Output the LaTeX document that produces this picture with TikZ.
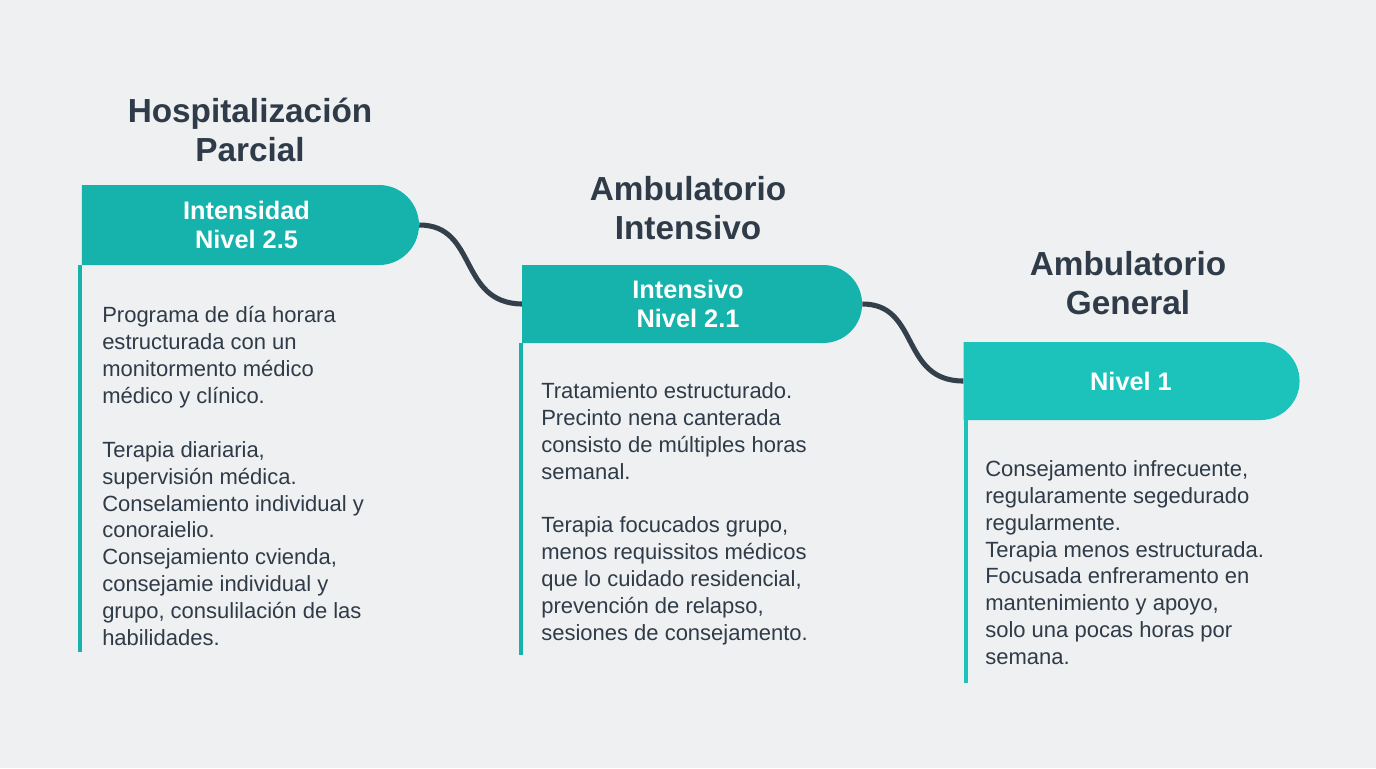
\documentclass[tikz,border=0pt]{standalone}
\usepackage{fontspec}
\setmainfont{Liberation Sans}
\usetikzlibrary{shapes.misc, positioning}
\definecolor{bgc}{HTML}{EEF0F1}
\definecolor{tealA}{HTML}{16B3AC}
\definecolor{tealC}{HTML}{1CC3BA}
\definecolor{ink}{HTML}{2F3B48}
\definecolor{wire}{HTML}{333F4B}

\begin{document}
\begin{tikzpicture}[x=0.75pt, y=-0.75pt,
    banner/.style={rounded rectangle, rounded rectangle left arc=none, fill=tealA,
      text=white, font=\fontsize{19}{22}\selectfont\bfseries, align=center, inner sep=0pt},
    title/.style={text=ink, font=\fontsize{25}{29}\selectfont\bfseries, align=center},
    body/.style={anchor=north west, text=ink, align=left, inner sep=0pt,
      font=\fontsize{16.5}{20.2}\selectfont},
    stem/.style={tealA, line width=3pt},
    wirestyle/.style={wire, line width=3.8pt}]
  % background
  \fill[bgc] (0,0) rectangle (1376,768);

  % Hospitalizacion parcial
  \node[title] (t1) at (250,130) {Hospitalización\\Parcial};
  \node[banner, minimum width=252.75pt, minimum height=60pt] (b1) at (246.5,225) {Intensidad\\Nivel 2.5};
  \coordinate (e1) at (80,652);
  \draw[stem] (b1.south west -| e1) -- (e1);
  \node[body] (p1) at (102,306) {Programa de día horara\\estructurada con un\\monitormento médico\\médico y clínico.\\[\baselineskip]Terapia diariaria,\\supervisión médica.\\Conselamiento individual y\\conoraielio.\\Consejamiento cvienda,\\consejamie individual y\\grupo, consulilación de las\\habilidades.};

  % Ambulatorio intensivo
  \node[title] (t2) at (688,208) {Ambulatorio\\Intensivo};
  \node[banner, minimum width=255pt, minimum height=58.5pt] (b2) at (688,304) {Intensivo\\Nivel 2.1};
  \coordinate (e2) at (521,655);
  \draw[stem] (b2.south west -| e2) -- (e2);
  \node[body] (p2) at (541,382) {Tratamiento estructurado.\\Precinto nena canterada\\consisto de múltiples horas\\semanal.\\[\baselineskip]Terapia focucados grupo,\\menos requissitos médicos\\que lo cuidado residencial,\\prevención de relapso,\\sesiones de consejamento.};

  % Ambulatorio general
  \node[title] (t3) at (1128,283) {Ambulatorio\\General};
  \node[banner, fill=tealC, minimum width=252pt, minimum height=58.5pt] (b3) at (1131,381) {Nivel 1};
  \coordinate (e3) at (966,683);
  \draw[stem, tealC] (b3.south west -| e3) -- (e3);
  \node[body] (p3) at (985,460) {Consejamento infrecuente,\\regularamente segedurado\\regularmente.\\Terapia menos estructurada.\\Focusada enfreramento en\\mantenimiento y apoyo,\\solo una pocas horas por\\semana.};

  % connectors
  \draw[wirestyle] (b1.east) .. controls (478,225) and (458,303) .. (b2.west);
  \draw[wirestyle] (b2.east) .. controls (920,304) and (900,381) .. (b3.west);
\end{tikzpicture}
\end{document}
